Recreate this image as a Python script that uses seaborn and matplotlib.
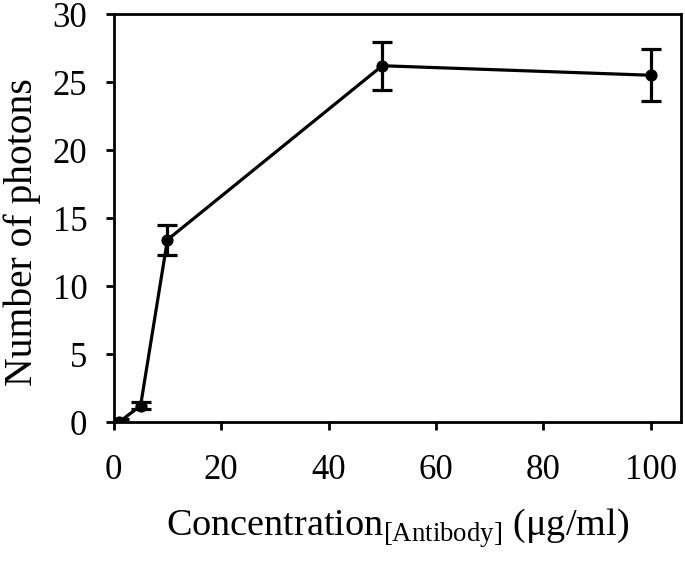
import matplotlib
matplotlib.use("Agg")
import matplotlib.pyplot as plt
import seaborn as sns
import pandas as pd

# values
concentration = [1, 5, 10, 50, 100]
photons = [0.0, 1.2, 13.4, 26.2, 25.5]
photons_err = [0.2, 0.25, 1.1, 1.75, 1.9]

df = pd.DataFrame({"conc": concentration, "photons": photons, "err": photons_err})

sns.set_theme(style="ticks")
plt.rcParams['font.family'] = ['Liberation Serif', 'DejaVu Serif']
plt.rcParams['mathtext.fontset'] = 'custom'
plt.rcParams['mathtext.rm'] = 'Liberation Serif'

fig = plt.figure(figsize=(6.85, 5.62), dpi=100)
ax = fig.add_axes([0.166, 0.249, 0.828, 0.726])

sns.lineplot(data=df, x="conc", y="photons", ax=ax, color="black",
             linewidth=2.3, marker="o", markersize=8, markeredgecolor="black")
ax.errorbar(df["conc"], df["photons"], yerr=df["err"], fmt="none",
            ecolor="black", elinewidth=2.3, capsize=7, capthick=2.3)

ax.set_xlim(0, 105.6)
ax.set_ylim(0, 30)
ax.set_xticks([0, 20, 40, 60, 80, 100])
ax.set_yticks([0, 5, 10, 15, 20, 25, 30])
ax.tick_params(axis="both", labelsize=25, direction="out", length=6, width=2,
               color="black", labelcolor="black")
ax.tick_params(axis="x", pad=17)
ax.tick_params(axis="y", pad=13)
for s in ax.spines.values():
    s.set_linewidth(2)
    s.set_color("black")

ax.set_xlabel(r"Concentration$_{\mathrm{[Antibody]}}$ ($\mathrm{\mu}$g/ml)",
              fontsize=27.5, labelpad=14, color="black")
ax.set_ylabel("Number of photons", fontsize=28.5, color="black")
ax.yaxis.set_label_coords(-0.128, 0.466)

fig.savefig("out.png", dpi=100)
